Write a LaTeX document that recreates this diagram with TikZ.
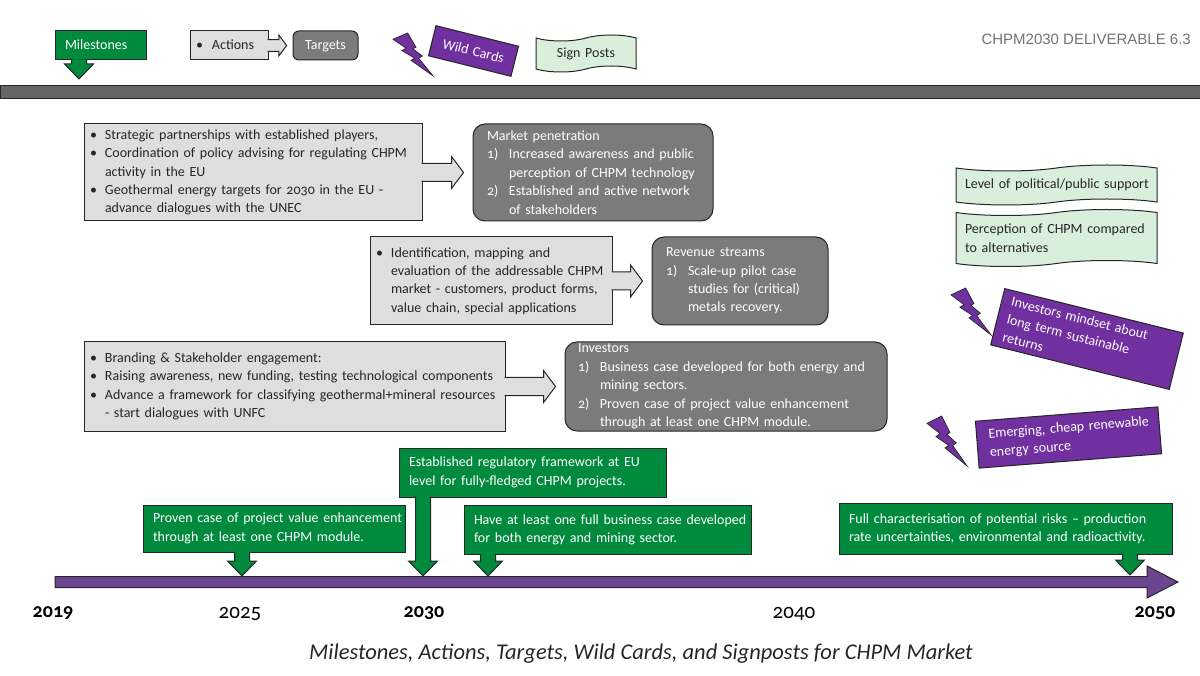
\documentclass[tikz,border=0pt]{standalone}
\usepackage{fontspec}
\setmainfont{Carlito}[Numbers=OldStyle,WordSpace=0.75]
\newfontfamily\captionfont{Carlito}
\newfontfamily\arialfont{Liberation Sans}
\usetikzlibrary{calc,shapes.symbols}

\definecolor{verde}{HTML}{008A3E}
\definecolor{verdeclaro}{HTML}{D9EFDB}
\definecolor{morado}{HTML}{7030A0}
\definecolor{moradolinea}{HTML}{6B4590}
\definecolor{grisclaro}{HTML}{DEDEDE}
\definecolor{grisoscuro}{HTML}{7B7B7B}
\definecolor{borde}{HTML}{262626}

\newcommand{\bul}[1]{\mbox{\makebox[15pt][l]{\textbullet}#1}}
\newcommand{\cont}[1]{\mbox{\hspace*{15pt}#1}}
\newcommand{\num}[2]{\mbox{\makebox[22pt][l]{#1}#2}}
\newcommand{\numc}[1]{\mbox{\hspace*{22pt}#1}}

\newcommand{\flechader}[3][1]{\draw[flechagris]
	($(#2.east)+(-1,-9*#1)$) -- ($(#3.west)+(-21*#1,-9*#1)$) -- ($(#3.west)+(-21*#1,-16*#1)$)
	-- ($(#3.west)+(-9*#1,0)$) -- ($(#3.west)+(-21*#1,16*#1)$) -- ($(#3.west)+(-21*#1,9*#1)$)
	-- ($(#2.east)+(-1,9*#1)$);}
\newcommand{\flechabaja}[2]{\draw[flechaverde]
	($(#1.south -| #2)+(-7.5,-1)$) -- ($(#2)+(-7.5,-15)$) -- ($(#2)+(-14.5,-15)$) -- (#2)
	-- ($(#2)+(14.5,-15)$) -- ($(#2)+(7.5,-15)$) -- ($(#1.south -| #2)+(7.5,-1)$);}
\newcommand{\rayo}[3]{\draw[fill=morado,draw=borde,line width=0.7pt,shift={(#1,#2)},yscale=#3]
	(0,7.5) -- (14.7,0) -- (23,17) -- (19.8,18.8) -- (29.4,27.5) -- (25.6,30) -- (40,51)
	-- (18,32.5) -- (21.8,30) -- (8.9,21) -- (13,18) -- cycle;}

\tikzset{
	texto/.style={font=\fontsize{14}{18.4}\selectfont,align=left,inner xsep=6pt,inner ysep=0pt},
	hito/.style={texto,rectangle,draw=borde,fill=verde,text=white,line width=1pt,inner xsep=10pt},
	accion/.style={texto,rectangle,draw=borde,fill=grisclaro,text=black!85,line width=1pt},
	objetivo/.style={texto,rectangle,rounded corners=12pt,draw=borde,fill=grisoscuro,text=white,line width=1pt},
	comodin/.style={texto,rectangle,draw=borde,fill=morado,text=white,line width=1pt},
	senal/.style={texto,tape,tape bend top=in and out,tape bend bottom=in and out,tape bend height=6pt,draw=borde,fill=verdeclaro,text=black!85,line width=1pt,inner xsep=9pt},
	flechagris/.style={fill=grisclaro,draw=borde,line width=1pt},
	flechaverde/.style={fill=verde,draw=borde,line width=1pt},
	anio/.style={font=\fontsize{21}{22}\selectfont,inner sep=0pt},
	anioclave/.style={anio,font=\fontsize{20}{22}\selectfont\bfseries}
}

\begin{document}
\begin{tikzpicture}[x=1pt,y=-1pt]
	\useasboundingbox (0,0) rectangle (1200,676);

	% leyenda
	\node[hito,minimum width=91pt,minimum height=29pt,text width=71pt] (ley1) at (100.5,45.5) {\strut Milestones};
	\coordinate (puntaley) at (79,79);
	\flechabaja{ley1}{puntaley}
	\node[accion,minimum width=78pt,minimum height=29pt,text width=66pt] (ley2) at (229,45.5) {\strut\makebox[16pt][l]{\textbullet}Actions};
	\node[objetivo,minimum width=65pt,minimum height=29pt,text width=53pt,rounded corners=6pt,align=center] (ley3) at (325.5,45.5) {\strut Targets};
	\flechader[0.65]{ley2}{ley3}
	\rayo{393}{33}{0.84}
	\node[comodin,minimum width=85pt,minimum height=31pt,text width=73pt,rotate=-14,align=center] (ley4) at (473.5,51) {Wild Cards};
	\node[senal,minimum width=100pt,minimum height=37pt,text width=82pt,align=center] (ley5) at (586,53.5) {Sign Posts};
	\node[font=\arialfont\fontsize{15}{16}\selectfont,text=black!55,anchor=base east,inner sep=0pt] (entrega) at (1191,44.5) {CHPM2030 DELIVERABLE 6.3};

	\node[rectangle,draw=borde,fill=black!60,line width=1pt,minimum width=1202pt,minimum height=13pt,inner sep=0pt] (barra) at (601,92) {};

	% acciones y objetivos
	\node[accion,minimum height=97pt,text width=326pt] (a1) at (253,172.5) {
		\bul{Strategic partnerships with established players,}\\
		\bul{Coordination of policy advising for regulating CHPM}\\
		\cont{activity in the EU}\\
		\bul{Geothermal energy targets for 2030 in the EU -}\\
		\cont{advance dialogues with the UNEC}};
	\node[objetivo,minimum height=97pt,text width=212pt,inner xsep=14pt] (o1) at (593,172.5) {
		Market penetration\\
		\num{1)}{Increased awareness and public}\\
		\numc{perception of CHPM technology}\\
		\num{2)}{Established and active network}\\
		\numc{of stakeholders}};
	\node[accion,minimum height=88pt,text width=230pt] (a2) at (491,281) {
		\bul{Identification, mapping and}\\
		\cont{evaluation of the addressable CHPM}\\
		\cont{market -  customers, product forms,}\\
		\cont{value chain, special applications}};
	\node[objetivo,minimum height=88pt,text width=148pt,inner xsep=14pt] (o2) at (740,281) {
		Revenue streams\\
		\num{1)}{Scale-up pilot case}\\
		\numc{studies for (critical)}\\
		\numc{metals recovery.}};
	\node[accion,minimum height=89pt,text width=409pt] (a3) at (294.5,386.5) {
		\bul{Branding \& Stakeholder engagement:}\\
		\bul{Raising awareness, new funding, testing technological components}\\
		\bul{Advance a framework for classifying geothermal+mineral resources}\\
		\cont{- start dialogues with UNFC}};
	\node[objetivo,minimum height=89pt,text width=296pt,inner xsep=13pt] (o3) at (726,386.5) {
		Investors\\
		\num{1)}{Business case developed for both energy and}\\
		\numc{mining sectors.}\\
		\num{2)}{Proven case of project value enhancement}\\
		\numc{through at least one CHPM module.}};
	\flechader{a1}{o1}
	\flechader{a2}{o2}
	\flechader{a3}{o3}

	% senales y comodines
	\node[senal,minimum width=201pt,minimum height=40pt,text width=183pt] (s1) at (1056.5,185) {\mbox{Level of political/public support}};
	\node[senal,minimum width=201pt,minimum height=57pt,text width=183pt] (s2) at (1056.5,238) {\mbox{Perception of CHPM compared}\\to alternatives};
	\rayo{951}{288}{0.92}
	\node[comodin,minimum width=184pt,minimum height=58pt,text width=164pt,rotate=-14,inner xsep=10pt] (w1) at (1087,339) {\mbox{Investors mindset about}\\long term sustainable\\returns};
	\rayo{927}{416}{0.98}
	\node[comodin,minimum width=183pt,minimum height=47pt,text width=159pt,rotate=4.5,inner xsep=12pt] (w2) at (1068.5,437.5) {\mbox{Emerging, cheap renewable}\\energy source};

	% linea de tiempo
	\coordinate (inicio) at (55,582);
	\coordinate (fin) at (1178,582);
	\draw[fill=moradolinea,draw=borde,line width=1pt] ($(inicio)+(0,-5.5)$) -- ($(fin)+(-31,-5.5)$) -- ($(fin)+(-31,-16)$)
		-- (fin) -- ($(fin)+(-31,16)$) -- ($(fin)+(-31,5.5)$) -- ($(inicio)+(0,5.5)$) -- cycle;

	% hitos
	\node[hito,minimum height=47pt,text width=242pt] (m1) at (274,528.5) {\mbox{Proven case of project value enhancement}\\through at least one CHPM module.};
	\node[hito,minimum height=49pt,text width=247pt] (m2) at (532.5,472.5) {\mbox{Established regulatory framework at EU}\\level for fully-fledged CHPM projects.};
	\node[hito,minimum height=49pt,text width=267pt] (m3) at (607.5,530) {\mbox{Have at least one full business case developed}\\for both energy and mining sector.};
	\node[hito,minimum height=51pt,text width=313pt] (m4) at (1005.5,528.5) {\mbox{Full characterisation of potential risks -- production}\\rate uncertainties, environmental and radioactivity.};
	\coordinate (p1) at (242,576);
	\coordinate (p2) at (423,576);
	\coordinate (p3) at (488,576);
	\coordinate (p4) at (1130,575);
	\flechabaja{m1}{p1}
	\flechabaja{m2}{p2}
	\flechabaja{m3}{p3}
	\flechabaja{m4}{p4}

	% anios
	\node[anioclave] (y2019) at (53,613.5) {2019};
	\node[anio] (y2025) at (240,613.5) {2025};
	\node[anioclave] (y2030) at (424,613.5) {2030};
	\node[anio] (y2040) at (794,613.5) {2040};
	\node[anioclave] (y2050) at (1155,613.5) {2050};

	\node[font=\captionfont\fontsize{22.5}{24}\selectfont\itshape,text=black!85,inner sep=0pt] (titulo) at (641,654) {Milestones, Actions, Targets, Wild Cards, and Signposts for CHPM Market};
\end{tikzpicture}
\end{document}
